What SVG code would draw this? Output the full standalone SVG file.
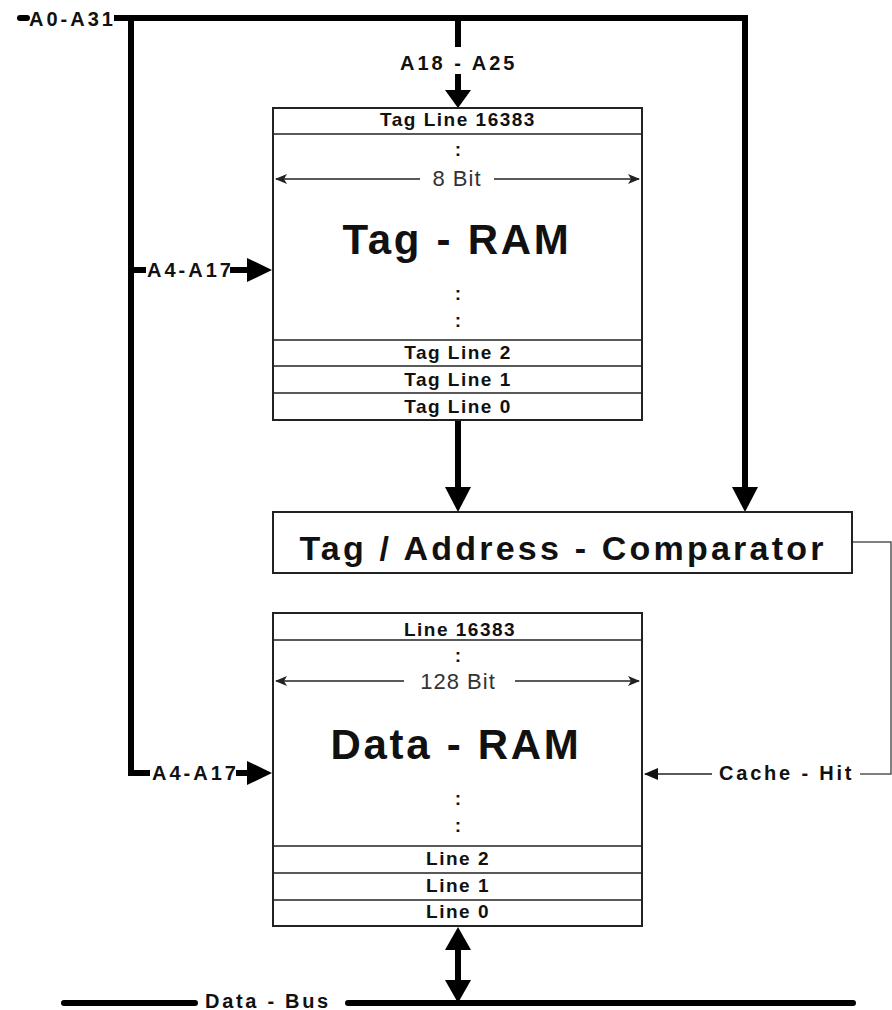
<svg xmlns="http://www.w3.org/2000/svg" width="892" height="1010" viewBox="0 0 892 1010">
<defs>
<style>
.bus{stroke:#000;stroke-width:6;fill:none}
.thin{stroke:#222;stroke-width:1.5;fill:none}
.gray{stroke:#555;stroke-width:1.5;fill:none}
.box{stroke:#222;stroke-width:2;fill:#fff}
.row{stroke:#222;stroke-width:1.5;fill:none}
.head{fill:#000}
.lbl{font-family:"Liberation Sans",Arial,sans-serif;font-weight:bold;fill:#111}
.row-t{font-size:19px;letter-spacing:1.5px;text-anchor:middle}
.bus-t{font-size:20px;letter-spacing:3px}
.big{font-size:42px;letter-spacing:2.7px;text-anchor:middle}
.cmp{font-size:34px;letter-spacing:3.2px;text-anchor:middle}
.dim{font-family:"Liberation Sans",Arial,sans-serif;font-size:22px;letter-spacing:1px;fill:#333;text-anchor:middle}
.dots{font-family:"Liberation Sans",Arial,sans-serif;font-weight:bold;font-size:19px;fill:#111;text-anchor:middle}
</style>
<marker id="barb" viewBox="0 0 12 10" refX="11" refY="5" markerWidth="12" markerHeight="10" markerUnits="userSpaceOnUse" orient="auto-start-reverse">
<path d="M0,0 L12,5 L0,10 L3,5 z" fill="#222"/>
</marker>
<marker id="tri" viewBox="0 0 14 12" refX="13" refY="6" markerWidth="14" markerHeight="12" markerUnits="userSpaceOnUse" orient="auto">
<path d="M0,0 L14,6 L0,12 z" fill="#111"/>
</marker>
</defs>
<rect width="892" height="1010" fill="#fff"/>

<g id="connectors">
  <line class="bus" x1="20" y1="18" x2="27" y2="18" stroke-linecap="round"/>
  <polyline class="bus" points="114,18 745,18 745,490"/>
  <polyline class="bus" points="131,18 131,773 150,773"/>
  <line class="bus" x1="131" y1="270" x2="146" y2="270"/>
  <line class="bus" x1="458" y1="18" x2="458" y2="47"/>
  <line class="bus" x1="458" y1="74" x2="458" y2="92"/>
  <polygon class="head" points="445,90 471,90 458,108"/>
  <line class="bus" x1="230" y1="270" x2="250" y2="270"/>
  <polygon class="head" points="247,258 247,282 272,270"/>
  <line class="bus" x1="236" y1="773" x2="250" y2="773"/>
  <polygon class="head" points="247,761 247,785 272,773"/>
  <line class="bus" x1="458" y1="421" x2="458" y2="490"/>
  <polygon class="head" points="445,487 471,487 458,512"/>
  <polygon class="head" points="732,487 758,487 745,512"/>
  <polyline class="gray" points="852,542 891,542 891,774 860,774"/>
  <line class="thin" x1="712" y1="774" x2="645" y2="774" marker-end="url(#tri)"/>
  <line class="bus" x1="458" y1="948" x2="458" y2="982"/>
  <polygon class="head" points="445,950 471,950 458,927"/>
  <polygon class="head" points="445,980 471,980 458,1003"/>
  <line class="bus" x1="64" y1="1003" x2="195" y2="1003" stroke-linecap="round"/>
  <line class="bus" x1="348" y1="1003" x2="853" y2="1003" stroke-linecap="round"/>
</g>

<g id="labels">
  <text class="lbl bus-t" x="29" y="26">A0-A31</text>
  <text class="lbl bus-t" x="400" y="70">A18 - A25</text>
  <text class="lbl bus-t" x="147" y="277" letter-spacing="2.4">A4-A17</text>
  <text class="lbl bus-t" x="152" y="780" letter-spacing="2.4">A4-A17</text>
  <text class="lbl" x="719" y="780" font-size="20" letter-spacing="2.8">Cache - Hit</text>
  <text class="lbl" x="205" y="1008" font-size="20" letter-spacing="2.7">Data - Bus</text>
</g>

<g id="tag-ram">
  <rect class="box" x="273" y="108" width="369" height="312"/>
  <line class="row" x1="273" y1="134" x2="642" y2="134"/>
  <line class="row" x1="273" y1="340" x2="642" y2="340"/>
  <line class="row" x1="273" y1="366" x2="642" y2="366"/>
  <line class="row" x1="273" y1="393" x2="642" y2="393"/>
  <text class="lbl row-t" x="458" y="126">Tag Line 16383</text>
  <text class="dots" x="458" y="156">:</text>
  <line class="thin" x1="420" y1="179" x2="276" y2="179" marker-end="url(#barb)"/>
  <line class="thin" x1="494" y1="179" x2="639" y2="179" marker-end="url(#barb)"/>
  <text class="dim" x="457" y="186">8 Bit</text>
  <text class="lbl big" x="457" y="254">Tag - RAM</text>
  <text class="dots" x="458" y="300">:</text>
  <text class="dots" x="458" y="327">:</text>
  <text class="lbl row-t" x="458" y="359">Tag Line 2</text>
  <text class="lbl row-t" x="458" y="386">Tag Line 1</text>
  <text class="lbl row-t" x="458" y="413">Tag Line 0</text>
</g>

<g id="comparator">
  <rect class="box" x="273" y="512" width="579" height="61"/>
  <text class="lbl cmp" x="563" y="560">Tag / Address - Comparator</text>
</g>

<g id="data-ram">
  <rect class="box" x="273" y="613" width="369" height="313"/>
  <line class="row" x1="273" y1="640" x2="642" y2="640"/>
  <line class="row" x1="273" y1="846" x2="642" y2="846"/>
  <line class="row" x1="273" y1="873" x2="642" y2="873"/>
  <line class="row" x1="273" y1="900" x2="642" y2="900"/>
  <text class="lbl row-t" x="460" y="636">Line 16383</text>
  <text class="dots" x="458" y="662">:</text>
  <line class="thin" x1="404" y1="681" x2="276" y2="681" marker-end="url(#barb)"/>
  <line class="thin" x1="515" y1="681" x2="639" y2="681" marker-end="url(#barb)"/>
  <text class="dim" x="458" y="689">128 Bit</text>
  <text class="lbl big" x="456" y="759">Data - RAM</text>
  <text class="dots" x="458" y="805">:</text>
  <text class="dots" x="458" y="832">:</text>
  <text class="lbl row-t" x="458" y="865">Line 2</text>
  <text class="lbl row-t" x="458" y="892">Line 1</text>
  <text class="lbl row-t" x="458" y="918">Line 0</text>
</g>
</svg>
